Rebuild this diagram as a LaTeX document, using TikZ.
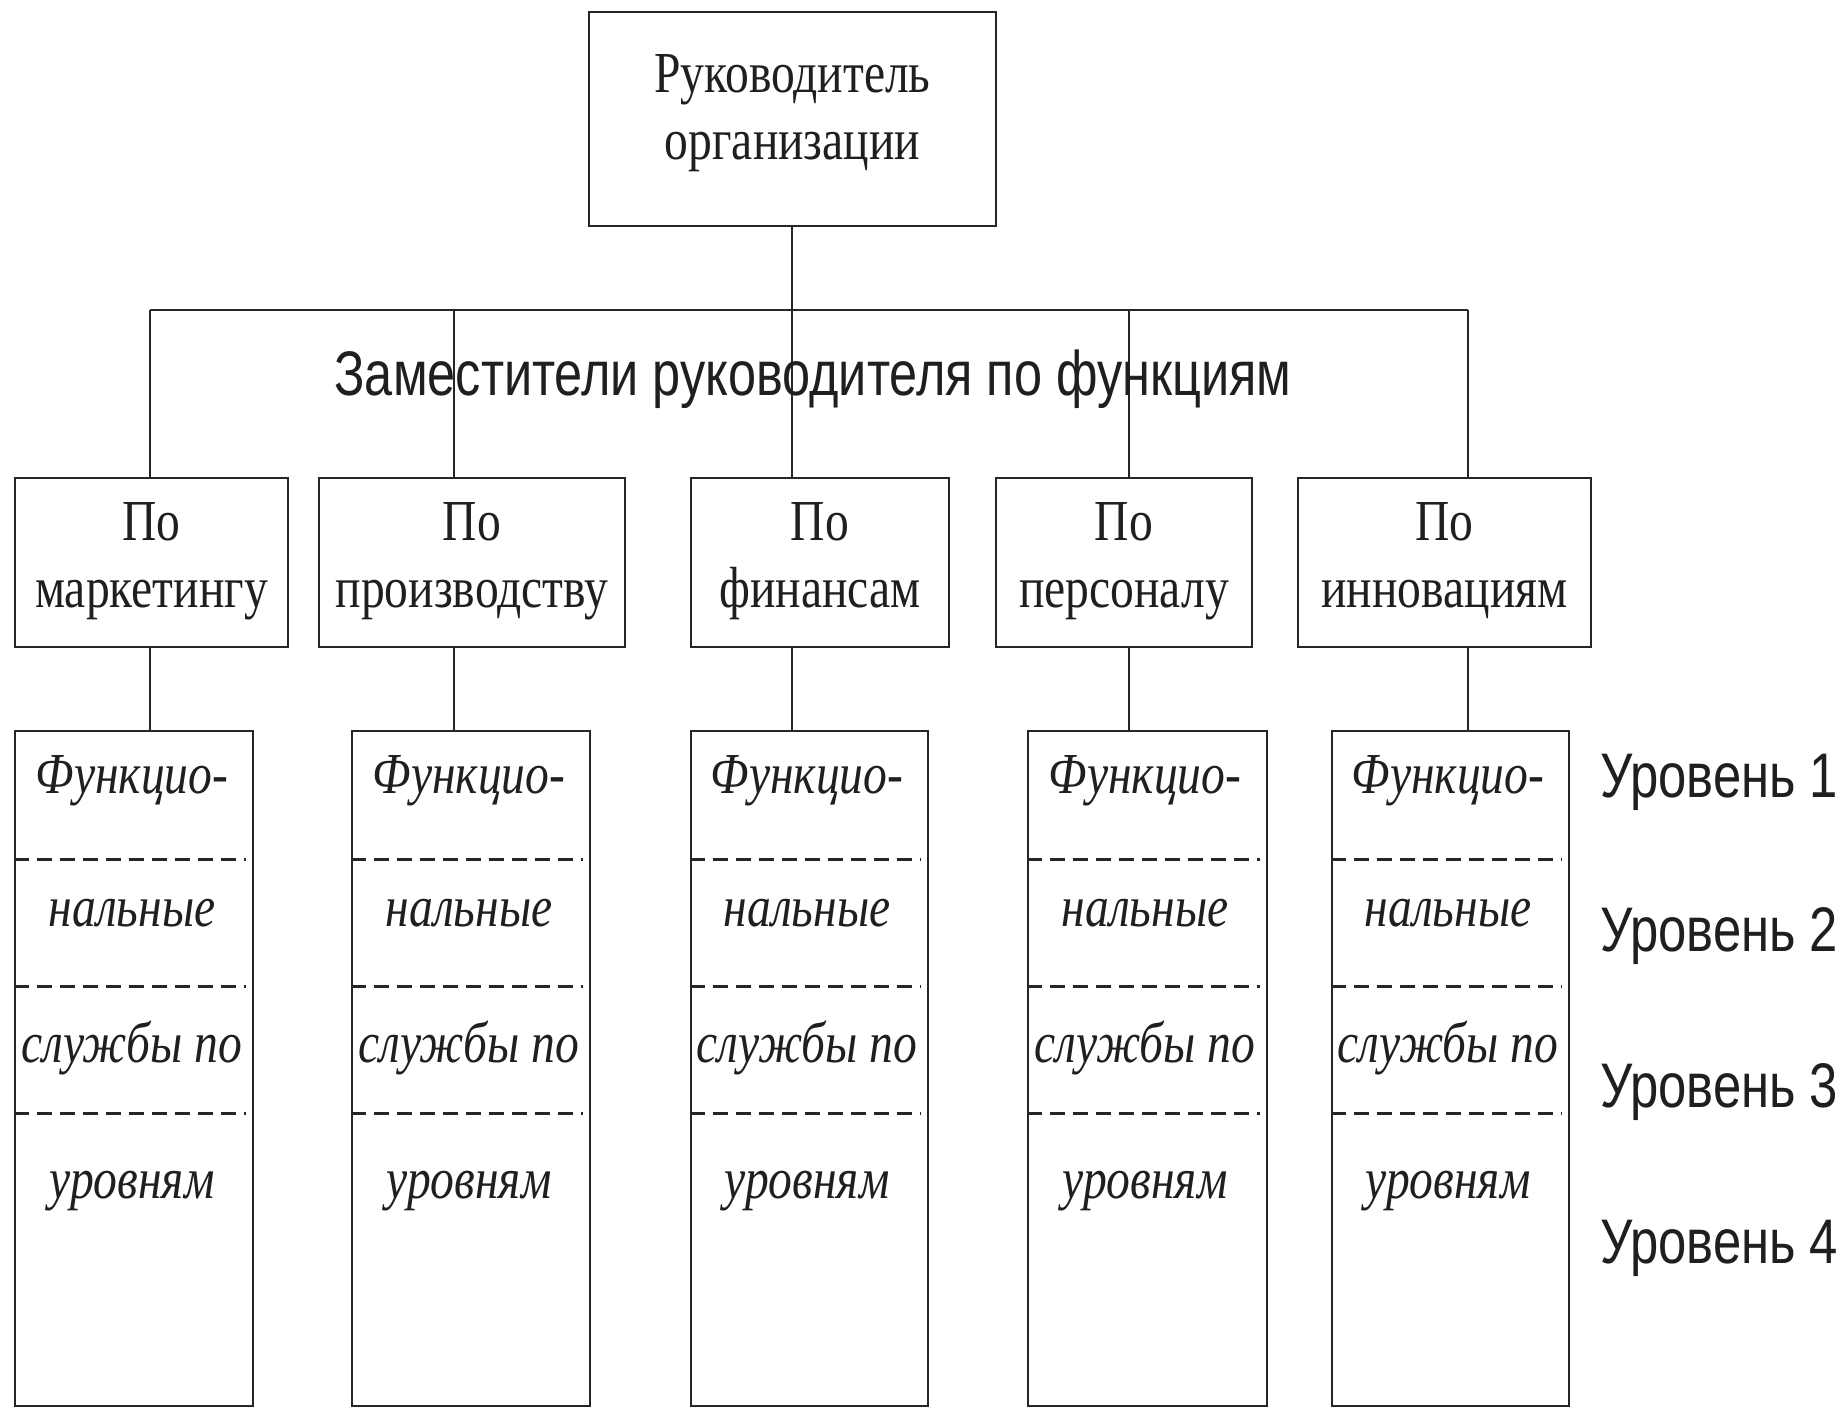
\documentclass[tikz,border=0pt]{standalone}
\usepackage{fontspec}
\setmainfont{Liberation Serif}
\newfontfamily\serifc[FakeStretch=0.82]{Liberation Serif}
\newfontfamily\sansc{Liberation Sans}
\begin{document}
\begin{tikzpicture}[x=1pt,y=-1pt,
  box/.style={draw, line width=2.6pt, rectangle, inner sep=0pt, draw=black!85},
  conn/.style={line width=2.2pt, draw=black!85},
  dsh/.style={line width=3pt, draw=black!85, dash pattern=on 15pt off 8pt, shorten >=8pt},
  stxt/.style={font=\serifc\fontsize{58}{67}\selectfont, anchor=base, align=center, inner sep=0pt, text=black!88},
  itxt/.style={font=\serifc\itshape\fontsize{58}{67}\selectfont, anchor=base, inner sep=0pt, text=black!88},
  htxt/.style={font=\sansc\fontsize{63}{70}\selectfont, inner sep=0pt, text=black!88}]
\useasboundingbox (0,0) rectangle (1848,1409);
% top box
\node[box, minimum width=407pt, minimum height=214pt] (top) at (792.5,119) {};
\node[stxt] (toptxt) at (792.5,159) {Руководитель\\организации};
% deputies
\node[box, minimum width=273pt, minimum height=169pt] (d1) at (151.5,562.5) {};
\node[box, minimum width=306pt, minimum height=169pt] (d2) at (472,562.5) {};
\node[box, minimum width=258pt, minimum height=169pt] (d3) at (820,562.5) {};
\node[box, minimum width=256pt, minimum height=169pt] (d4) at (1124,562.5) {};
\node[box, minimum width=293pt, minimum height=169pt] (d5) at (1444.5,562.5) {};
\node[stxt] (t1) at (151.5,607) {По\\маркетингу};
\node[stxt] (t2) at (472,607) {По\\производству};
\node[stxt] (t3) at (820,607) {По\\финансам};
\node[stxt] (t4) at (1124,607) {По\\персоналу};
\node[stxt] (t5) at (1444.5,607) {По\\инновациям};
% columns
\node[box, minimum width=238pt, minimum height=675pt] (c1) at (134,1068.5) {};
\node[box, minimum width=238pt, minimum height=675pt] (c2) at (471,1068.5) {};
\node[box, minimum width=237pt, minimum height=675pt] (c3) at (809.5,1068.5) {};
\node[box, minimum width=239pt, minimum height=675pt] (c4) at (1147.5,1068.5) {};
\node[box, minimum width=237pt, minimum height=675pt] (c5) at (1450.5,1068.5) {};
% bus coordinates
\coordinate (b1) at (150,310);
\coordinate (b2) at (454,310);
\coordinate (b3) at (792,310);
\coordinate (b4) at (1129,310);
\coordinate (b5) at (1468,310);
\draw[conn] (top.south -| b3) -- (b3);
\draw[conn] (b1) -- (b5);
\foreach \i in {1,...,5}{
  \draw[conn] (b\i) -- (b\i |- d\i.north);
  \draw[conn] (b\i |- d\i.south) -- (b\i |- c\i.north);
  \foreach \yy in {859,986,1113}{
    \draw[dsh] (c\i.west |- 0,\yy) -- (c\i.east |- 0,\yy);
  }
}
\foreach \i/\xx in {1/132,2/469,3/807,4/1145,5/1448}{
  \node[itxt] (fa\i) at (\xx,793) {Функцио-};
  \node[itxt] (fb\i) at (\xx,926) {нальные};
  \node[itxt] (fc\i) at (\xx,1062) {службы по};
  \node[itxt] (fd\i) at (\xx,1198) {уровням};
}
% header
\node[htxt, anchor=base] (hdr) at (813,395) {\resizebox{957pt}{\height}{Заместители руководителя по функциям}};
% levels
\node[htxt, anchor=base west] (l1) at (1600,797) {\resizebox{238pt}{\height}{Уровень 1}};
\node[htxt, anchor=base west] (l2) at (1600,951) {\resizebox{238pt}{\height}{Уровень 2}};
\node[htxt, anchor=base west] (l3) at (1600,1107) {\resizebox{238pt}{\height}{Уровень 3}};
\node[htxt, anchor=base west] (l4) at (1600,1263) {\resizebox{238pt}{\height}{Уровень 4}};
\end{tikzpicture}
\end{document}
